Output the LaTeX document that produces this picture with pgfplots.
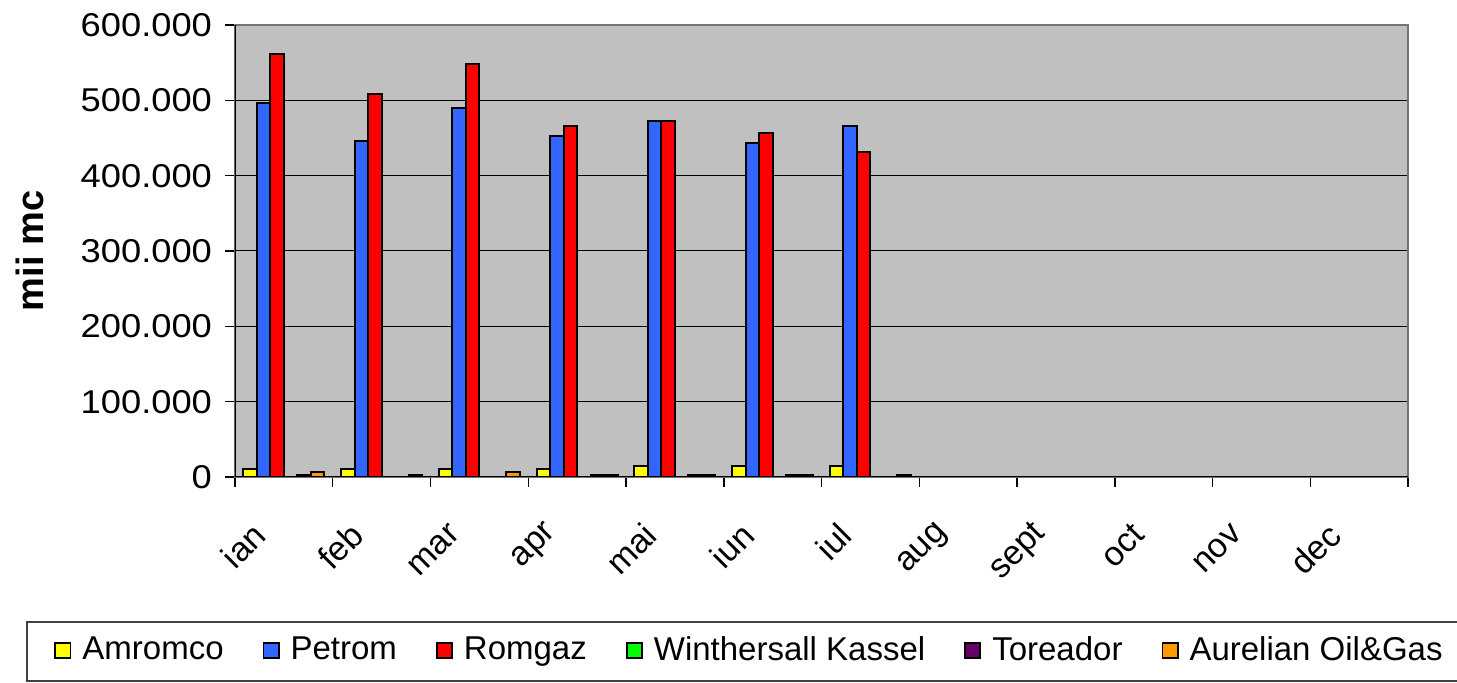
\documentclass[border=0pt]{standalone}
\usepackage{pgfplots}
\pgfplotsset{compat=1.18}
\usepackage{fontspec}
\setmainfont{Liberation Sans}
\newfontfamily\tickfont[FakeStretch=1.1]{Liberation Sans}
\definecolor{bgray}{HTML}{C0C0C0}
\definecolor{cyel}{HTML}{FFFF00}
\definecolor{cblu}{HTML}{3366FF}
\definecolor{cred}{HTML}{FF0000}
\definecolor{cgrn}{HTML}{00FF00}
\definecolor{cpur}{HTML}{660066}
\definecolor{corg}{HTML}{FF9900}
\pgfplotsset{
  mybar/.style={draw=black, line width=1pt, fill=#1,
    legend image code/.code={\draw[fill=#1, draw=black, line width=0.9pt] (0pt,-4pt) rectangle (7.6pt,3.6pt);}},
}
\begin{document}
\begin{tikzpicture}
\begin{axis}[
  at={(0pt,0pt)}, anchor=south west,
  width=586.5pt, height=226pt, scale only axis,
  xmin=-0.5, xmax=11.5, ymin=0, ymax=600000,
  ybar=0pt, bar width=6.75pt,
  axis background/.style={fill=bgray},
  axis line style={draw=black!55, line width=0.6pt},
  xtick={0,...,11},
  xticklabels={ian,feb,mar,apr,mai,iun,iul,aug,sept,oct,nov,dec},
  major x tick style={draw=none},
  minor xtick={-0.5,0.5,...,11.5},
  ytick={0,100000,200000,300000,400000,500000,600000},
  yticklabels={0,100.000,200.000,300.000,400.000,500.000,600.000},
  scaled y ticks=false,
  tick align=outside,
  xtick pos=bottom, ytick pos=left,
  major tick length=5pt, minor tick length=5pt,
  tick style={black, line width=0.75pt},
  ymajorgrids, grid style={black, line width=0.5pt},
  yticklabel style={font=\tickfont\fontsize{16.5}{18}\selectfont, xshift=-3pt},
  xticklabel style={font=\fontsize{17}{19}\selectfont, rotate=45, anchor=east, xshift=-20.2pt, yshift=-6.3pt},
  ylabel={\bfseries\fontsize{19}{21}\selectfont mii mc},
  ylabel style={at={(axis description cs:-0.1748,0.5)}, anchor=center, rotate=0},
  legend columns=6,
  legend style={draw=none, fill=none, at={(axis description cs:-0.1594,-0.3827)}, anchor=west,
    font=\fontsize{16.5}{19}\selectfont, column sep=0pt,
    /tikz/every odd column/.append style={column sep=3.5pt},
    /tikz/every even column/.append style={column sep=17.5pt}},
]
\addplot[mybar=cyel] coordinates {(0,10500) (1,10500) (2,10500) (3,10500) (4,14500) (5,14500) (6,14500)};
\addplot[mybar=cblu] coordinates {(0,497000) (1,446500) (2,490000) (3,453000) (4,473000) (5,443000) (6,466000)};
\addplot[mybar=cred] coordinates {(0,561500) (1,508000) (2,548000) (3,466300) (4,473000) (5,456000) (6,432000)};
\addplot[mybar=cgrn] coordinates {(0,0) (1,0) (2,0) (3,0) (4,0) (5,0) (6,0)};
\addplot[mybar=cpur] coordinates {(0,2500) (1,0) (2,0) (3,2500) (4,2500) (5,2500) (6,0)};
\addplot[mybar=corg] coordinates {(0,6500) (1,2500) (2,6000) (3,2500) (4,2500) (5,2500) (6,2500)};
\legend{Amromco,Petrom,Romgaz,Winthersall Kassel,Toreador,Aurelian Oil\&Gas}
\draw[black, line width=1pt] (rel axis cs:0,0) -- (rel axis cs:0,1);
\draw[black, line width=1pt] (rel axis cs:0,0) -- (rel axis cs:1,0);
\end{axis}
\draw[black!75, line width=0.8pt] (-104pt,-72.5pt) rectangle (625pt,-102pt);
\pgfresetboundingbox
\useasboundingbox (-117.5pt,-103pt) rectangle (611pt,238.5pt);
\end{tikzpicture}
\end{document}
